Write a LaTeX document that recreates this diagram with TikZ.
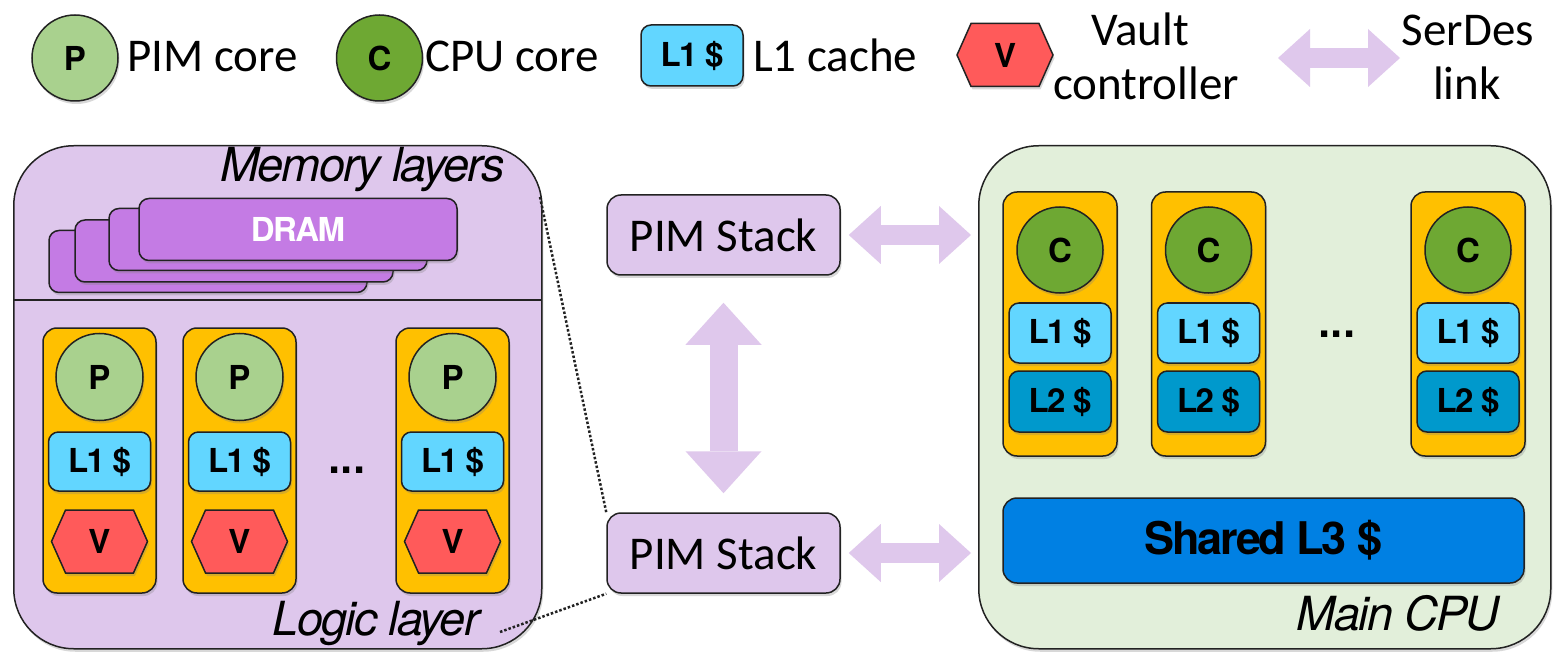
\documentclass[tikz,border=0pt]{standalone}
\usepackage{fontspec}
\setmainfont{Carlito}
\newfontfamily\hv[LetterSpace=-5]{TeX Gyre Heros}
\newfontfamily\hvit[LetterSpace=-4]{TeX Gyre Heros}
\newfontfamily\hvplain{Liberation Sans}
\usetikzlibrary{shapes.geometric,shapes.symbols,shadows,arrows.meta}
\definecolor{pimgreen}{HTML}{A9D18E}
\definecolor{cpugreen}{HTML}{6EA833}
\definecolor{lonecyan}{HTML}{62D6FF}
\definecolor{ltwoblue}{HTML}{0099CC}
\definecolor{lthreeblue}{HTML}{0080E3}
\definecolor{vaultred}{HTML}{FF5A5A}
\definecolor{coreorange}{HTML}{FFC000}
\definecolor{lilac}{HTML}{DEC7EC}
\definecolor{dramviolet}{HTML}{C47BE4}
\definecolor{mintbg}{HTML}{E2EFDA}
\definecolor{linkarrow}{HTML}{DFC8EC}
\definecolor{outline}{HTML}{222222}
\tikzset{
  shad/.style={drop shadow={opacity=0.3,shadow xshift=1.5pt,shadow yshift=-3pt}},
  base/.style={draw=outline,line width=1.5pt,inner sep=0pt},
  lbl/.style={font=\hv\bfseries\fontsize{33}{36}\selectfont},
  pcore/.style={base,shad,circle,fill=pimgreen,minimum size=86pt,lbl},
  ccore/.style={base,shad,circle,fill=cpugreen,minimum size=86pt,lbl},
  lonebox/.style={base,shad,rounded corners=10pt,fill=lonecyan,minimum width=102pt,minimum height=60pt,lbl},
  ltwobox/.style={base,shad,rounded corners=10pt,fill=ltwoblue,minimum width=102pt,minimum height=61pt,lbl},
  vault/.style={base,shad,signal,signal to=east and west,signal pointer angle=132,fill=vaultred,minimum width=96pt,minimum height=63pt,lbl},
  column/.style={base,shad,rounded corners=14pt,fill=coreorange,minimum width=113pt,minimum height=265pt},
  dram/.style={base,shad,rounded corners=10pt,fill=dramviolet,minimum width=318pt,minimum height=62pt},
  stackbox/.style={base,shad,rounded corners=14pt,fill=lilac,minimum width=233pt,minimum height=80pt,font=\fontsize{47}{56}\selectfont},
  legtext/.style={font=\fontsize{47}{56}\selectfont,inner sep=0pt},
  ital/.style={font=\hvit\itshape\fontsize{47}{52}\selectfont,inner sep=0pt},
  dots/.style={font=\hvplain\bfseries\fontsize{44}{48}\selectfont,inner sep=0pt},
  fatlink/.style={linkarrow,line width=20pt,{Triangle[length=32pt,width=58pt,line width=0pt]}-{Triangle[length=32pt,width=58pt,line width=0pt]}},
  fatvlink/.style={linkarrow,line width=28pt,{Triangle[length=42pt,width=76pt,line width=0pt]}-{Triangle[length=42pt,width=76pt,line width=0pt]}},
  zoomline/.style={line width=2.5pt,dash pattern=on 2.5pt off 2pt,draw=outline},
}
\begin{document}
\begin{tikzpicture}[x=1pt,y=-1pt]
\useasboundingbox (0,0) rectangle (1555,652);
\fill[white] (0,0) rectangle (1555,652);
% ---------- legend ----------
\node[pcore] (legP) at (75,58) {P};
\node[legtext,anchor=base west] (legPt) at (127,72) {PIM core};
\node[ccore] (legC) at (379.5,58) {C};
\node[legtext,anchor=base west] (legCt) at (425,72) {CPU core};
\node[lonebox,minimum height=61pt] (legL) at (692,55.5) {L1 \$};
\node[legtext,anchor=base west] (legLt) at (753,72) {L1 cache};
\node[vault] (legV) at (1005,55) {V};
\node[legtext,anchor=base] (legVa) at (1140,46) {Vault};
\node[legtext,anchor=base] (legVb) at (1146,100) {controller};
\coordinate (legA) at (1278,58);
\coordinate (legB) at (1400,58);
\draw[fatlink] (legA) -- (legB);
\node[legtext,anchor=base] (legSa) at (1468,46) {SerDes};
\node[legtext,anchor=base] (legSb) at (1467,100) {link};
% ---------- PIM stack detail ----------
\node[base,shad,fill=lilac,rounded corners=60pt,minimum width=528pt,minimum height=503pt,anchor=north west] (pimbox) at (13,145) {};
\coordinate (divL) at (13,300);
\coordinate (divR) at (541,300);
\draw[line width=1.5pt,outline] (divL) -- (divR);
\node[ital,anchor=base east] (memlbl) at (505,182) {Memory layers};
\node[dram] (d4) at (208,261.5) {};
\node[dram] (d3) at (234,251) {};
\node[dram] (d2) at (268,239.5) {};
\node[dram,text=white,font=\hv\bfseries\fontsize{33}{36}\selectfont] (d1) at (298,229.5) {DRAM};
\foreach \cx/\nm in {99.5/a,239.5/b,452.5/c} {
  \node[column] (pcol\nm) at (\cx,460.5) {};
  \node[pcore,minimum size=87pt] (pp\nm) at (\cx,377) {P};
  \node[lonebox,minimum height=59pt] (pl\nm) at (\cx,461.5) {L1 \$};
  \node[vault] (pv\nm) at (\cx,541.5) {V};
}
\node[dots] (pdots) at (347,470) {...};
\node[ital,anchor=base east] (logiclbl) at (480,635) {Logic layer};
% ---------- PIM stacks ----------
\node[stackbox] (stackTop) at (723.5,235) {PIM Stack};
\node[stackbox] (stackBot) at (723.5,553) {PIM Stack};
\draw[fatvlink,shorten <=27pt,shorten >=19pt] (stackTop) -- (stackBot);
% ---------- main CPU ----------
\node[base,shad,fill=mintbg,rounded corners=60pt,minimum width=572pt,minimum height=503pt,anchor=north west] (cpubox) at (978,145) {};
\draw[fatlink,shorten <=8pt,shorten >=7pt] (stackTop.east) -- (stackTop.east -| cpubox.west);
\draw[fatlink,shorten <=8pt,shorten >=7pt] (stackBot.east) -- (stackBot.east -| cpubox.west);
\foreach \cx/\nm in {1060/a,1208.5/b,1468/c} {
  \node[column,minimum width=114pt,minimum height=264pt] (ccol\nm) at (\cx,324) {};
  \node[ccore] (cc\nm) at (\cx,250) {C};
  \node[lonebox] (cl\nm) at (\cx,333) {L1 \$};
  \node[ltwobox] (ct\nm) at (\cx,401.5) {L2 \$};
}
\node[dots] (cdots) at (1337,334) {...};
\node[base,shad,rounded corners=14pt,fill=lthreeblue,minimum width=521pt,minimum height=85pt,font=\hv\bfseries\fontsize{45}{48}\selectfont] (lthree) at (1263.5,540.5) {Shared L3 \$};
\node[ital,anchor=base east] (maincpu) at (1500,630) {Main CPU};
% ---------- zoom lines ----------
\coordinate (zA) at (540,197);
\coordinate (zB) at (500,632);
\draw[zoomline] (zA) -- (stackBot.north west);
\draw[zoomline] (zB) -- (stackBot.south west);
\end{tikzpicture}
\end{document}
